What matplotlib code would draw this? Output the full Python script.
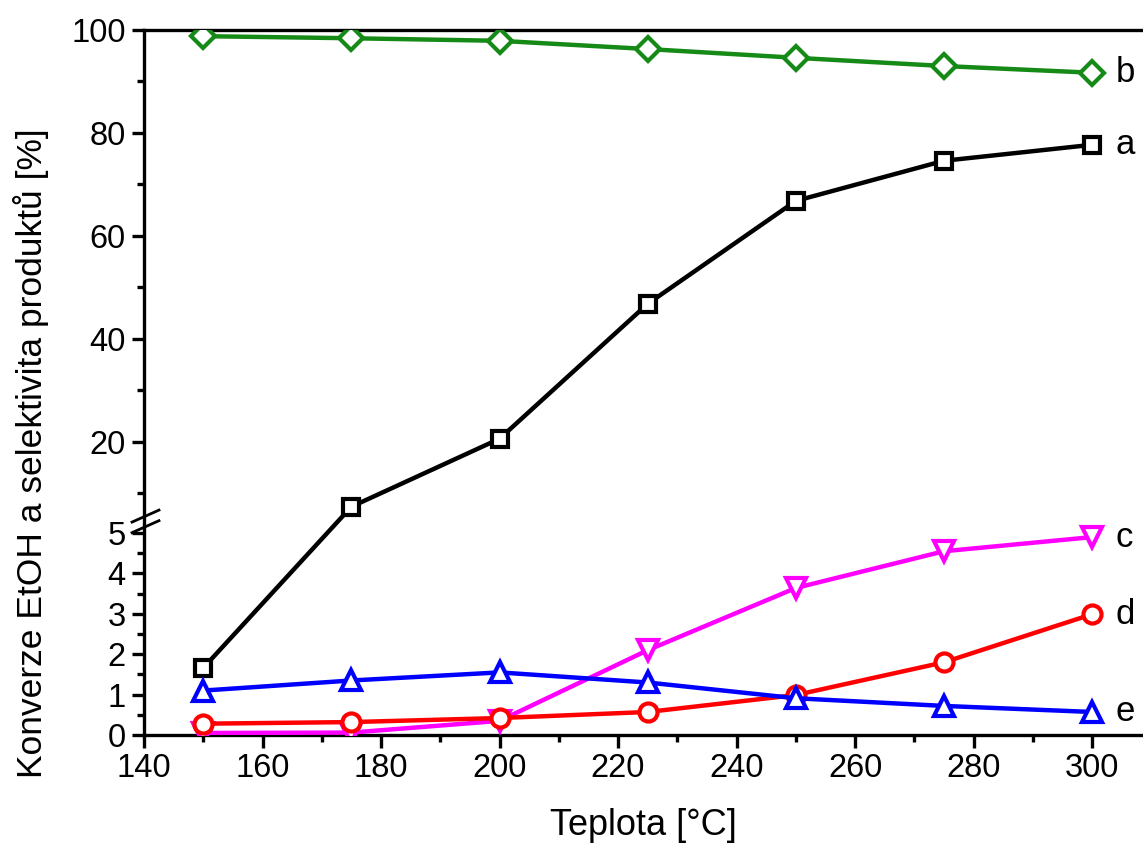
import matplotlib
matplotlib.use("Agg")
import matplotlib.pyplot as plt
import numpy as np

plt.rcParams["font.family"] = ["Liberation Sans", "DejaVu Sans"]

teplota = [150, 175, 200, 225, 250, 275, 300]
konverze_a = [1.66, 7.4, 20.6, 46.8, 66.8, 74.6, 77.7]
selektivita_b = [98.8, 98.4, 97.9, 96.3, 94.6, 93.0, 91.7]
selektivita_c = [0.05, 0.06, 0.35, 2.1, 3.64, 4.55, 4.9]
selektivita_d = [0.28, 0.32, 0.42, 0.57, 0.99, 1.8, 2.99]
selektivita_e = [1.1, 1.35, 1.55, 1.3, 0.91, 0.72, 0.57]

# broken y axis: 0-5 stretched, 5-100 compressed
RATIO = 5.15 / 40.4
GAP = 14 / 40.4


def forward(v):
    v = np.asarray(v, dtype=float)
    return np.where(v <= 5, v, 5 + GAP + (v - 5) * RATIO)


def inverse(u):
    u = np.asarray(u, dtype=float)
    return np.where(u <= 5, u, 5 + (u - 5 - GAP) / RATIO)


fig = plt.figure(figsize=(11.43, 8.47), dpi=100)
ax = fig.add_axes([144 / 1143, 112 / 847, 999 / 1143, 705 / 847])
ax.set_yscale("function", functions=(forward, inverse))

series = [
    (konverze_a, "black", "s"),
    (selektivita_b, "#168a16", "D"),
    (selektivita_c, "#ff00ff", "v"),
    (selektivita_d, "#ff0000", "o"),
    (selektivita_e, "#0000ff", "^"),
]
labels = ["a", "b", "c", "d", "e"]
sizes = {"s": 12, "D": 12, "v": 14, "o": 13, "^": 14}
for (vals, col, mk), lab in zip(series, labels):
    ax.plot(teplota, vals, color=col, lw=3.2, marker=mk, ms=sizes[mk],
            mfc="white", mec=col, mew=3, zorder=3)
    ax.annotate(lab, xy=(teplota[-1], vals[-1]), xytext=(17, 0),
                textcoords="offset points", va="center", ha="left",
                fontsize=25, annotation_clip=False)

ax.set_yticks([0, 1, 2, 3, 4, 5, 20, 40, 60, 80, 100])
ax.set_yticks([0.5, 1.5, 2.5, 3.5, 4.5, 10, 30, 50, 70, 90], minor=True)
ax.set_xticks(np.arange(140, 301, 20))
ax.set_xticks(np.arange(150, 301, 20), minor=True)
ax.set_xlim(140, 308.6)
ax.set_ylim(0, 100)
ax.tick_params(which="both", direction="out", width=2.4, labelsize=23.5,
               top=False, right=False)
ax.tick_params(which="major", length=9, pad=4)
ax.tick_params(which="minor", length=5)
ax.yaxis.set_major_formatter(plt.FuncFormatter(lambda v, p: f"{v:g}"))
ax.yaxis.set_minor_formatter(plt.NullFormatter())

for side in ["left", "bottom", "top"]:
    ax.spines[side].set_linewidth(2.4)
ax.spines["right"].set_visible(False)

# break marks on the left spine
for y0, y1 in [(0.287, 0.304), (0.302, 0.319)]:
    ax.plot([-0.012, 0.015], [y0, y1], transform=ax.transAxes, color="black",
            lw=2, clip_on=False, zorder=5)

ax.set_xlabel("Teplota [°C]", fontsize=26, labelpad=17)
ax.set_ylabel("Konverze EtOH a selektivita produktů [%]", fontsize=25.5)
ax.yaxis.set_label_coords(-0.095, 0.40)

fig.savefig("out.png", dpi=100)
